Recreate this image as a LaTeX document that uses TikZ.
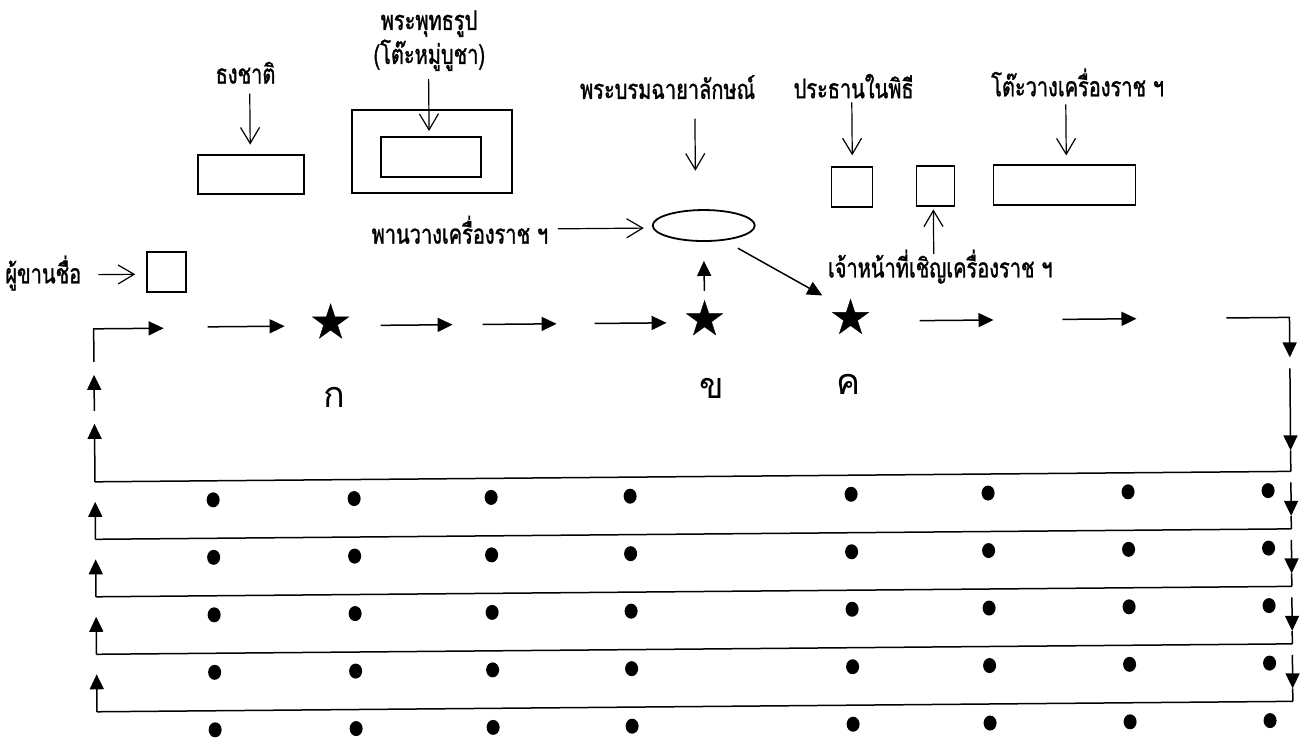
\documentclass[tikz,border=0pt]{standalone}
\usepackage{fontspec}
\newfontfamily\thaifont[Script=Thai, FakeStretch=0.74, FakeBold=1.2]{Loma}
\newfontfamily\letterfont[Script=Thai]{Loma}
\usetikzlibrary{arrows.meta,shapes.geometric}
\begin{document}
\begin{tikzpicture}[x=1pt,y=-1pt,
  thai/.style={font=\thaifont\fontsize{27}{30}\selectfont, inner sep=0pt, anchor=base},
  letter/.style={font=\letterfont\fontsize{36}{38}\selectfont, inner sep=0pt},
  box/.style={draw, line width=1.8pt, inner sep=0pt},
  ptr/.style={-{Straight Barb[length=16pt,width=19pt]}, line width=1.2pt},
  flowarr/.style={-{Triangle[length=15pt,width=14pt]}, line width=1.5pt},
  ln/.style={line width=1.5pt},
  starnode/.style={star, star points=5, star point ratio=2.6, minimum size=38pt, inner sep=0pt, fill=black, draw=black},
  dotnode/.style={ellipse, fill=black, minimum width=13pt, minimum height=15pt, inner sep=0pt}
]
\fill[white] (0,0) rectangle (1303,738);
\useasboundingbox (0,0) rectangle (1303,738);
\begin{scope}[rotate around={0.5:(651,369)}]
% boxes
\node[box, minimum width=106pt, minimum height=39pt] (flag) at (253,171) {};
\node[box, minimum width=160pt, minimum height=83pt] (altar) at (434,149.5) {};
\node[box, minimum width=100pt, minimum height=40pt] (buddha) at (433,155) {};
\node[box, minimum width=39pt, minimum height=40pt] (caller) at (167.5,268) {};
\node[draw, ellipse, line width=1.8pt, minimum width=102pt, minimum height=31pt, inner sep=0pt] (tray) at (705,226) {};
\node[box, minimum width=41pt, minimum height=40pt] (chair) at (853.5,189) {};
\node[box, minimum width=38pt, minimum height=40pt] (officer) at (937,188.5) {};
\node[box, minimum width=142pt, minimum height=40pt] (table) at (1066,188.5) {};
% texts
\node[thai] (tflag) at (248,80) {ธงชาติ};
\node[thai] (tbud1) at (432,28) {พระพุทธรูป};
\node[thai] (tbud2) at (432,62) {(โต๊ะหมู่บูชา)};
\node[thai] (tportrait) at (670,99) {พระบรมฉายาลักษณ์};
\node[thai] (tchair) at (856,100) {ประธานในพิธี};
\node[thai] (ttable) at (1080,100) {โต๊ะวางเครื่องราช ฯ};
\node[thai] (ttray) at (461,242) {พานวางเครื่องราช ฯ};
\node[thai] (tofficer) at (941,280) {เจ้าหน้าที่เชิญเครื่องราช ฯ};
\node[thai] (tcaller) at (44,278) {ผู้ขานชื่อ};
% label arrows
\draw[ptr] ([shift={(-1,-60.5)}]flag.north) -- ([shift={(-1,-9.5)}]flag.north);
\draw[ptr] ([shift={(-2,-57)}]buddha.north) -- ([shift={(-2,-5)}]buddha.north);
\draw[ptr] ([shift={(-8,-90.5)}]tray.north) -- ([shift={(-8,-38.5)}]tray.north);
\draw[ptr] ([shift={(0.5,-64)}]chair.north) -- ([shift={(0.5,-11)}]chair.north);
\draw[ptr] ([shift={(2,-59.5)}]table.north) -- ([shift={(2,-8.5)}]table.north);
\draw[ptr] ([shift={(-2,47)}]officer.south) -- ([shift={(-2,2.5)}]officer.south);
\draw[ptr] ([shift={(-94,2.5)}]tray.west) -- ([shift={(-8,2.5)}]tray.west);
\draw[ptr] ([shift={(-48,2)}]caller.west) -- ([shift={(-11,2)}]caller.west);
% stars and letters
\node[starnode] (sA) at (331,320) {};
\node[starnode] (sB) at (705,320) {};
\node[starnode] (sC) at (851,320) {};
\node[letter] (lA) at (334,395) {ก};
\node[letter] (lB) at (712,389) {ข};
\node[letter] (lC) at (848,386) {ค};
\draw[flowarr] ([shift={(0,-9)}]sB.north) -- ([shift={(0,19)}]tray.south);
\draw[flowarr] ([shift={(34,23)}]tray.center) -- ([shift={(-28,-23)}]sC.center);
% top flow
\coordinate (c0) at (94,357); \coordinate (c1) at (94,324); \coordinate (c2) at (164,324);
\draw[flowarr] (c0) -- (c1) -- (c2);
\foreach \s/\e [count=\i] in {208/285,381/453,483/557,595/667,920/994,1063/1137}{
  \coordinate (fs\i) at (\s,323); \coordinate (fe\i) at (\e,323);
  \draw[flowarr] (fs\i) -- (fe\i);
}
\coordinate (r0) at (1227,323); \coordinate (r1) at (1290,323); \coordinate (r2) at (1290,363);
\draw[flowarr] (r0) -- (r1) -- (r2);
% rows
\foreach \k in {1,...,5}{
  \pgfmathsetmacro\yy{477+57.5*(\k-1)}
  \coordinate (L\k) at (94,\yy); \coordinate (R\k) at (1290,\yy);
  \draw[ln] (R\k) -- (L\k);
  \foreach \x [count=\i] in {212,353,490,629,850,987,1127,1267}
    \node[dotnode] (d\k-\i) at (\x,\yy+19) {};
}
\coordinate (r3) at (1290,374); \coordinate (r4) at (1290,456);
\draw[flowarr] (r3) -- (r4); \draw[ln] (r4) -- (R1);
\coordinate (u1) at (94,419); \coordinate (u2) at (94,406); \coordinate (u3) at (94,370);
\draw[flowarr] (L1) -- (u1);
\draw[flowarr] (u2) -- (u3);
\foreach \k in {2,...,5}{
  \pgfmathsetmacro\yy{477+57.5*(\k-1)}
  \pgfmathsetmacro\yp{477+57.5*(\k-2)}
  \coordinate (LU\k) at (94,\yp+20);
  \draw[flowarr] (L\k) -- (LU\k);
  \coordinate (RS\k) at (1290,\yp+11); \coordinate (RT\k) at (1290,\yy-13);
  \draw[flowarr] (RS\k) -- (RT\k);
  \draw[ln] (RT\k) -- (R\k);
}
\end{scope}
\end{tikzpicture}
\end{document}
